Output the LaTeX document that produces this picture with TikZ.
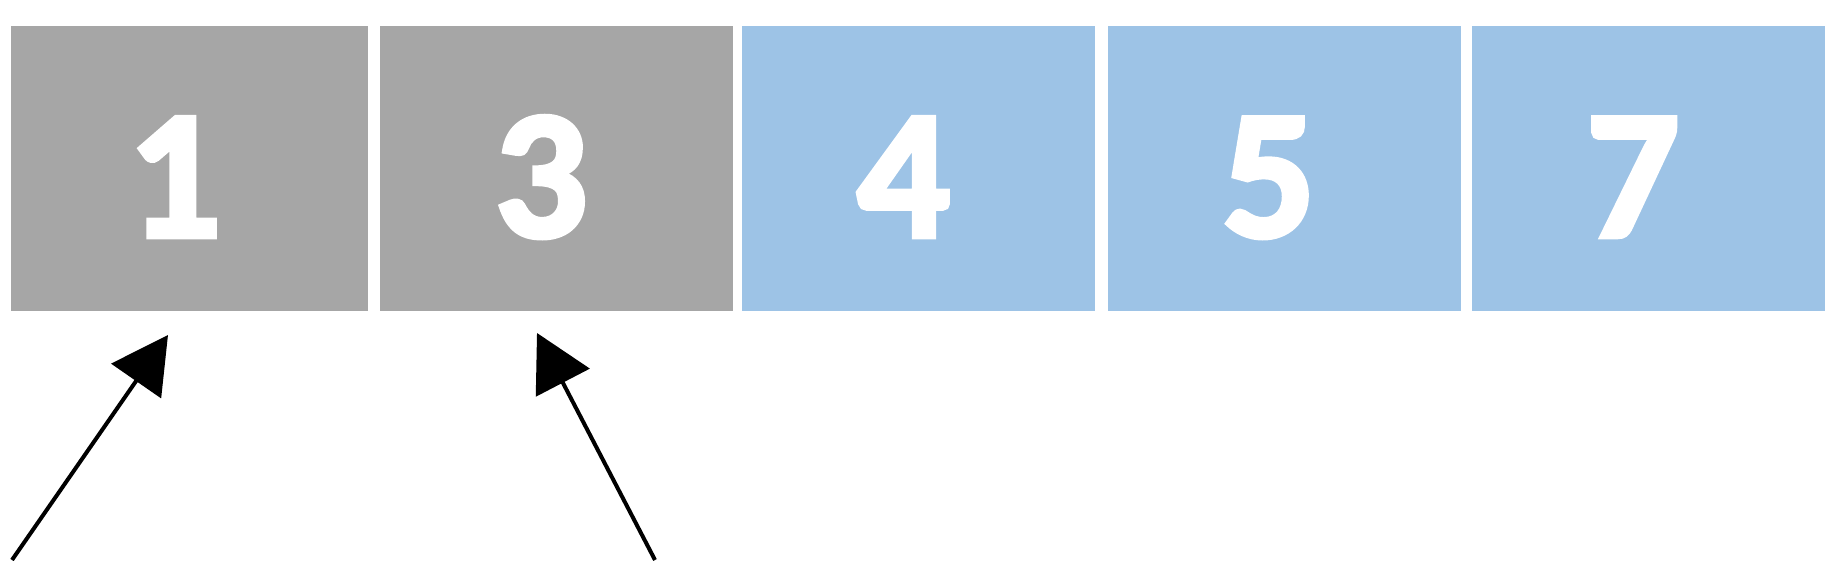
\documentclass[tikz,border=0pt]{standalone}
\usepackage{fontspec}
\setmainfont{Carlito}
\newfontfamily\cellfont{Carlito}[UprightFont=*-Bold, FakeBold=3]
\usetikzlibrary{arrows.meta}
\definecolor{cellgray}{HTML}{A6A6A6}
\definecolor{cellblue}{HTML}{9DC3E6}
\tikzset{
  cell/.style={rectangle, inner sep=0pt, minimum height=285pt, minimum width=353pt,
    text=white, font=\fontsize{183}{200}\selectfont\cellfont,
    text height=136pt, text depth=0pt},
  done/.style={cell, fill=cellgray},
  todo/.style={cell, fill=cellblue},
  ptr/.style={line width=4pt, -{Triangle[length=56pt,width=60pt]}}
}
\begin{document}
\begin{tikzpicture}[x=1pt,y=1pt]
\useasboundingbox (0,0) rectangle (1839,560);
\fill[white] (0,0) rectangle (1839,560);
\node[done, minimum width=357pt] (b1) at (189.5,391.5) {1\kern30pt};
\node[done] (b3) at (556,391.5) {3\kern30pt};
\node[todo] (b4) at (918.5,391.5) {4\kern30pt};
\node[todo] (b5) at (1284,391.5) {5\kern30pt};
\node[todo] (b7) at (1648,391.5) {7\kern30pt};
\coordinate (t1) at (12,0);
\coordinate (h1) at (168,225);
\coordinate (t2) at (655,0);
\coordinate (h2) at (537,227);
\draw[ptr] (t1) -- (h1);
\draw[ptr] (t2) -- (h2);
\end{tikzpicture}
\end{document}
